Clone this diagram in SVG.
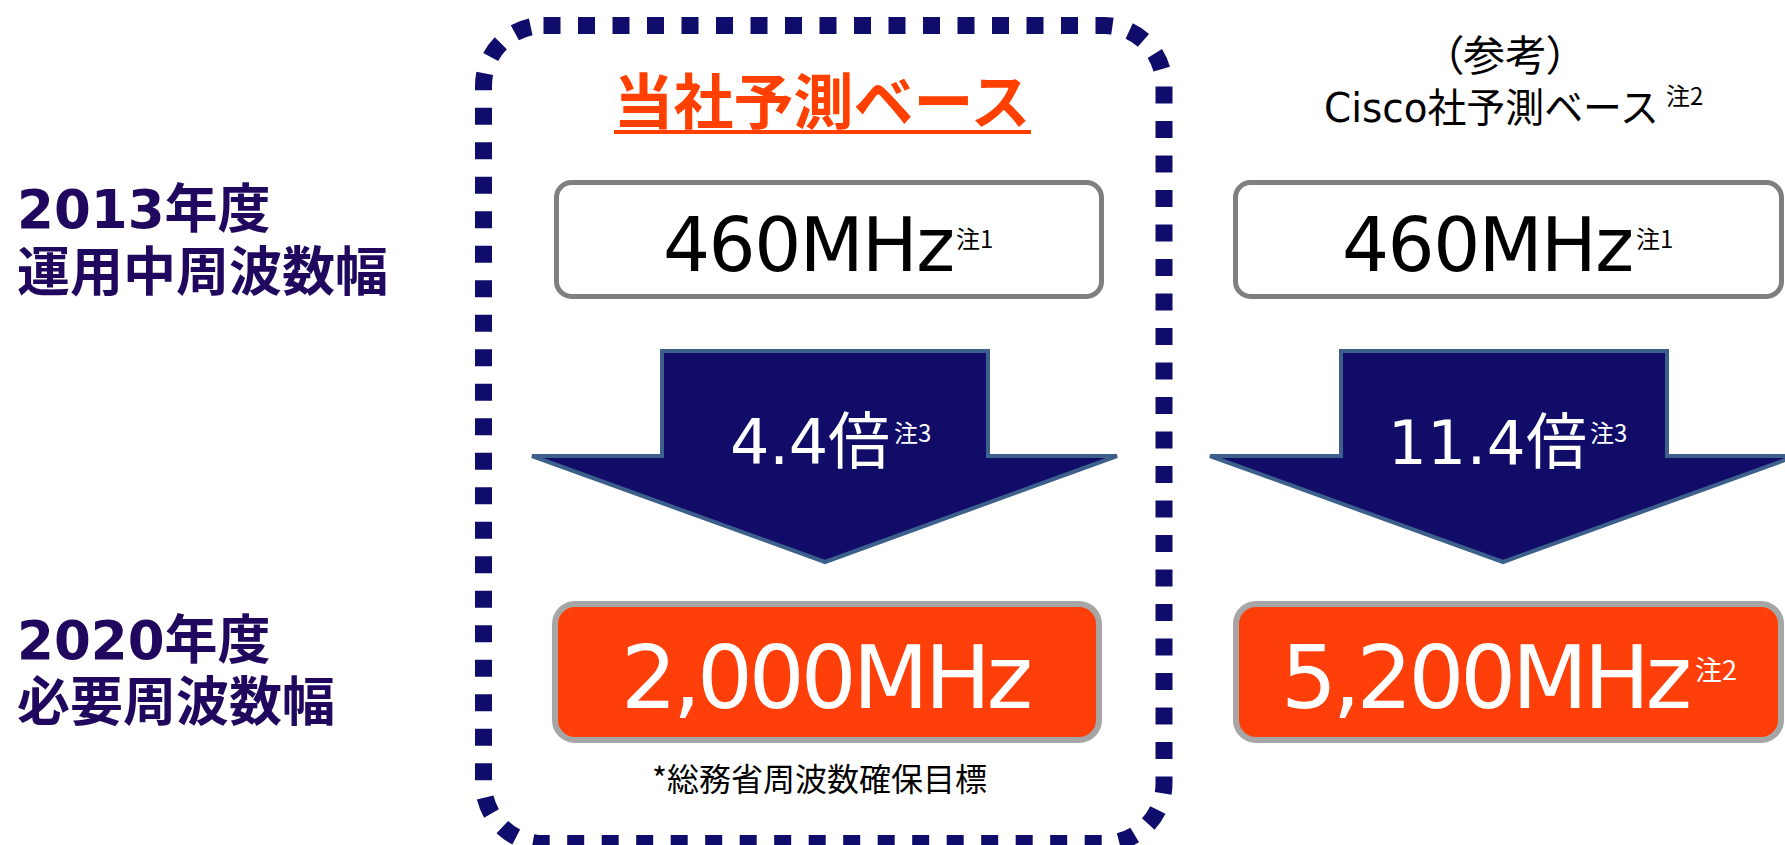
<svg xmlns="http://www.w3.org/2000/svg" width="1785" height="845" viewBox="0 0 1785 845">
<style>
  .lbl { font-family: "DejaVu Sans", "Noto Sans CJK JP", sans-serif; font-weight: bold; font-size: 53px; fill: #20085e; }
  .cjk { font-family: "Noto Sans CJK JP", sans-serif; }
  .num { font-family: "DejaVu Sans", "Noto Sans CJK JP", sans-serif; }
  .sup { font-family: "Noto Sans CJK JP", sans-serif; }
  .wbox { fill: #ffffff; stroke: #7f7f7f; stroke-width: 5; }
  .obox { fill: #ff3f0a; stroke: #a6a6a6; stroke-width: 6; }
  .arrow { fill: #100c68; stroke: #3c5f8c; stroke-width: 4; stroke-linejoin: miter; }
</style>
<rect width="1785" height="845" fill="#ffffff"/>

<g id="row-labels">
  <text class="lbl" x="17" y="228">2013年度</text>
  <text class="lbl" x="17" y="291">運用中周波数幅</text>
  <text class="lbl" x="17" y="659">2020年度</text>
  <text class="lbl" x="17" y="721">必要周波数幅</text>
</g>

<g id="own-forecast-frame">
  <rect x="483.5" y="25.5" width="680.5" height="818" rx="60" ry="60" fill="none" stroke="#100c6b" stroke-width="17" stroke-dasharray="17 17.5"/>
  <text class="cjk" x="822" y="124" font-size="60" font-weight="bold" fill="#ff4000" text-anchor="middle">当社予測ベース</text>
  <rect x="614" y="130" width="417" height="4" fill="#ff4000"/>
</g>

<g id="cisco-header">
  <text class="cjk" x="1505" y="71" font-size="42" fill="#000000" text-anchor="middle" style="font-feature-settings: 'palt'">（参考）</text>
  <text class="num" x="1324" y="122" font-size="40" fill="#000000" textLength="335" lengthAdjust="spacingAndGlyphs">Cisco社予測ベース</text>
  <text class="sup" x="1666" y="105" font-size="24" fill="#000000">注2</text>
</g>

<g id="own-2013">
  <rect class="wbox" x="556.5" y="182.5" width="545" height="114" rx="15" ry="15"/>
  <text class="num" x="663" y="271" font-size="74" fill="#000000" textLength="292" lengthAdjust="spacing">460MHz</text>
  <text class="sup" x="956" y="248" font-size="24" fill="#000000">注1</text>
</g>

<g id="cisco-2013">
  <rect class="wbox" x="1235.5" y="182.5" width="546" height="114" rx="15" ry="15"/>
  <text class="num" x="1342" y="271" font-size="74" fill="#000000" textLength="292" lengthAdjust="spacing">460MHz</text>
  <text class="sup" x="1636" y="248" font-size="24" fill="#000000">注1</text>
</g>

<g id="connectors">
  <g id="own-arrow">
    <polygon class="arrow" points="662,351 988,351 988,456 1117,456 825,562 532,456 662,456"/>
    <text class="num" x="730" y="464" font-size="62" fill="#ffffff" textLength="160" lengthAdjust="spacing">4.4倍</text>
    <text class="sup" x="894" y="442" font-size="24" fill="#ffffff">注3</text>
  </g>
  <g id="cisco-arrow">
    <polygon class="arrow" points="1341,351 1667,351 1667,456 1796,456 1503,562 1210,456 1341,456"/>
    <text class="num" x="1388" y="464" font-size="61" fill="#ffffff" textLength="199" lengthAdjust="spacing">11.4倍</text>
    <text class="sup" x="1590" y="442" font-size="24" fill="#ffffff">注3</text>
  </g>
</g>

<g id="own-2020">
  <rect class="obox" x="555" y="604" width="544" height="136" rx="20" ry="20"/>
  <text class="num" x="621" y="708" font-size="88" fill="#ffffff" textLength="412" lengthAdjust="spacing">2,000MHz</text>
  <text class="cjk" x="652" y="791" font-size="32" fill="#000000">*総務省周波数確保目標</text>
</g>

<g id="cisco-2020">
  <rect class="obox" x="1236" y="604" width="545" height="136" rx="20" ry="20"/>
  <text class="num" x="1281" y="708" font-size="88" fill="#ffffff" textLength="411" lengthAdjust="spacing">5,200MHz</text>
  <text class="sup" x="1695" y="680" font-size="27" fill="#ffffff">注2</text>
</g>
</svg>
